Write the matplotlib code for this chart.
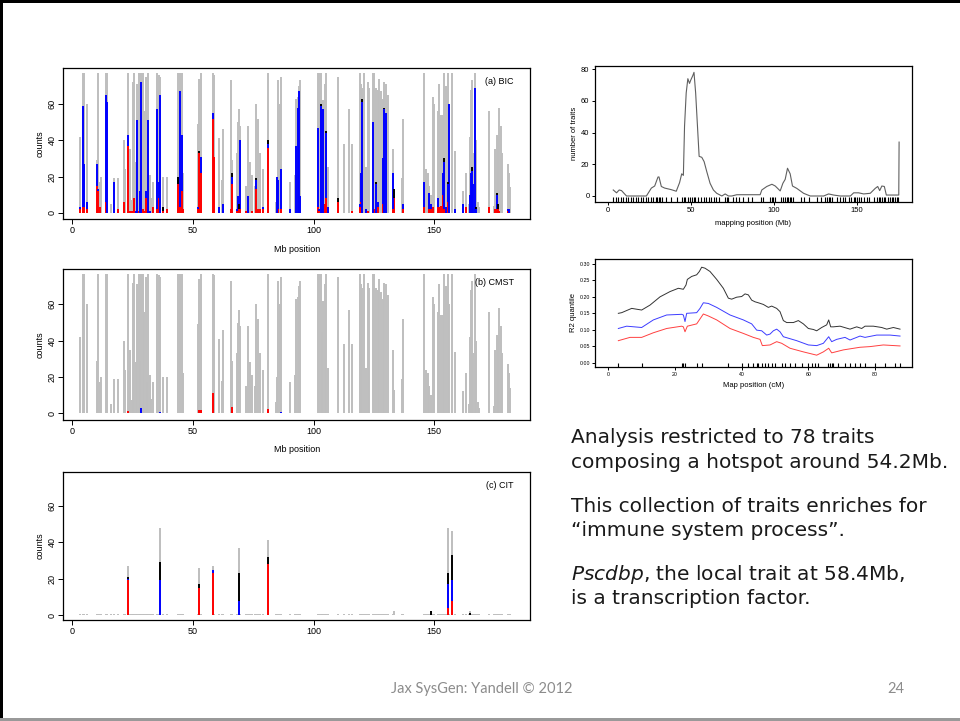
import matplotlib.pyplot as plt
import matplotlib.transforms as mtransforms
from matplotlib.patches import Rectangle

plt.rcParams['font.family'] = ['Liberation Sans', 'DejaVu Sans']
plt.rcParams['mathtext.fontset'] = 'custom'
plt.rcParams['mathtext.it'] = 'DejaVu Sans:italic'
plt.rcParams['mathtext.rm'] = 'DejaVu Sans'

# ---------------- data ----------------
# marker positions (Mb) and total counts (gray) shared by BIC and CMST panels
pos = [3.3, 4.4, 5.0, 6.3,
       10.2, 10.8, 11.4, 12.0, 14.0, 14.6, 16.2, 17.5, 19.1,
       21.5, 22.0, 23.0, 23.5, 24.0, 24.6, 25.2, 25.7, 26.3, 26.9, 27.5, 28.1,
       28.6, 29.2, 29.8, 30.4, 30.9, 31.5, 32.1, 32.7, 33.6,
       35.2, 35.8, 36.4, 37.6, 39.2,
       44.0, 44.6, 45.3, 45.9,
       52.2, 52.7, 53.3,
       58.2, 58.9, 60.8, 62.0, 62.5,
       65.7, 66.4, 68.1, 68.7, 69.2, 69.7,
       72.2, 72.9, 73.8, 74.5, 75.6, 76.3, 76.8, 77.7, 79.1, 81.1,
       84.3, 84.9, 85.3, 85.9, 86.6, 90.4, 92.3, 92.7, 93.4, 94.1, 94.5,
       101.8, 102.4, 102.9, 103.4, 104.0, 104.6, 105.2, 105.8,
       110.1, 112.6, 114.5, 116.0,
       119.1, 119.7, 120.1, 120.8, 121.8, 122.4, 123.1, 124.5, 125.2, 125.9, 126.6,
       127.3, 128.0, 128.7, 129.4, 130.0, 130.7, 132.8, 133.5, 136.5, 136.9,
       145.9, 146.6, 147.3, 148.0, 148.7, 149.4, 150.0, 151.4, 152.1, 152.8, 153.5,
       154.2, 154.9, 155.6, 156.3, 157.4, 158.8,
       161.8, 163.2, 164.3, 164.8, 165.3, 165.7, 166.2, 166.8, 167.3, 168.0, 168.7,
       172.8, 174.6, 175.3, 176.0, 176.5, 176.9, 177.6, 178.3, 180.6, 181.0, 181.6]
gray_h = [42, 77, 77, 60,
          29, 77, 17, 20, 77, 77, 5, 19, 19,
          40, 24, 77, 23, 35, 7, 72, 77, 28, 71, 77, 29,
          77, 77, 56, 75, 17, 77, 21, 8, 17,
          77, 76, 75, 20, 20,
          77, 77, 77, 22,
          49, 74, 77,
          77, 76, 41, 18, 46,
          73, 29, 33, 50, 57, 48,
          15, 48, 28, 21, 15, 60, 52, 33, 24, 77,
          6, 20, 73, 60, 75, 17, 21, 63, 64, 70, 73,
          77, 77, 77, 45, 62, 71, 77, 25,
          75, 38, 57, 38,
          77, 71, 69, 77, 25, 72, 69, 77, 77, 69, 68,
          74, 67, 63, 72, 71, 65, 35, 13, 19, 52,
          77, 24, 22, 15, 10, 64, 60, 56, 71, 54, 54,
          77, 70, 77, 60, 77, 34,
          12, 22, 5, 42, 68, 73, 33, 77, 40, 6, 3,
          56, 4, 35, 43, 42, 58, 48, 33, 27, 22, 14]

# (a) BIC: stacked segment heights red / blue / black
bic_pos = [3.3, 4.4, 5.0, 6.3, 10.2, 10.8, 11.4, 14.0, 14.6, 17.5,
           19.1, 21.5, 23.0, 24.0, 24.6, 25.7, 26.3, 26.9, 27.5, 28.1,
           28.6, 29.2, 29.8, 30.4, 30.9, 31.5, 32.1, 33.6, 35.2, 35.8,
           36.4, 37.6, 39.2, 44.0, 44.6, 45.3, 45.9, 52.2, 52.7, 53.3,
           58.2, 58.9, 60.8, 62.5, 65.7, 66.4, 68.1, 68.7, 69.2, 69.7,
           72.2, 72.9, 74.5, 76.3, 76.8, 77.7, 79.1, 81.1, 84.9, 85.3,
           86.6, 90.4, 92.7, 93.4, 94.1, 94.5, 101.8, 102.4, 102.9, 103.4,
           104.0, 104.6, 105.2, 105.8, 110.1, 116.0, 119.1, 119.7, 120.1, 121.8,
           122.4, 124.5, 125.2, 125.9, 126.6, 128.7, 129.4, 130.0, 132.8, 133.5,
           136.9, 145.9, 148.0, 148.7, 149.4, 151.4, 152.1, 152.8, 153.5, 154.2,
           154.9, 155.6, 156.3, 158.8, 161.8, 163.2, 164.8, 165.3, 165.7, 166.2,
           166.8, 167.3, 172.8, 175.3, 176.0, 176.5, 176.9, 180.6, 181.0]
bic_red = [2, 3, 3, 2, 15, 12, 3, 6, 0, 0,
           2, 6, 37, 1, 1, 8, 0, 0, 1, 0,
           0, 2, 1, 8, 1, 0, 0, 3, 2, 8,
           0, 1, 2, 16, 3, 12, 2, 2, 33, 22,
           52, 31, 0, 0, 2, 16, 1, 2, 2, 2,
           1, 0, 1, 13, 2, 2, 2, 36, 0, 2,
           2, 0, 0, 0, 0, 0, 3, 1, 0, 1,
           0, 5, 8, 0, 6, 1, 3, 6, 0, 0,
           1, 0, 2, 0, 3, 5, 0, 0, 2, 8,
           2, 3, 2, 2, 3, 3, 3, 4, 10, 2,
           0, 6, 0, 0, 0, 3, 0, 3, 0, 0,
           0, 0, 3, 2, 2, 2, 1, 1, 0]
bic_blue = [1, 56, 24, 4, 12, 1, 0, 59, 61, 17,
            0, 0, 6, 0, 0, 0, 1, 51, 0, 12,
            72, 0, 0, 4, 0, 51, 1, 0, 55, 9,
            65, 0, 0, 0, 64, 31, 0, 1, 0, 9,
            3, 0, 3, 5, 0, 4, 1, 7, 0, 38,
            0, 9, 0, 5, 0, 0, 1, 2, 20, 16,
            22, 2, 37, 58, 67, 9, 44, 1, 59, 1,
            57, 0, 36, 3, 0, 0, 2, 16, 61, 2,
            0, 50, 0, 16, 3, 25, 57, 55, 20, 0,
            3, 14, 9, 3, 0, 5, 0, 0, 12, 26,
            3, 10, 60, 2, 5, 0, 10, 19, 23, 16,
            69, 2, 0, 0, 8, 0, 0, 1, 2]
bic_black = [0, 0, 0, 0, 0, 0, 0, 0, 0, 0,
             0, 0, 0, 0, 0, 0, 0, 0, 0, 0,
             0, 0, 0, 0, 0, 0, 0, 0, 0, 0,
             0, 2, 0, 4, 0, 0, 0, 0, 1, 0,
             0, 0, 0, 0, 0, 2, 0, 0, 3, 0,
             0, 0, 0, 1, 0, 0, 0, 2, 0, 0,
             0, 0, 0, 0, 0, 0, 0, 0, 1, 0,
             0, 0, 1, 0, 2, 0, 0, 0, 2, 0,
             0, 0, 0, 1, 0, 0, 1, 0, 0, 5,
             0, 0, 0, 0, 0, 0, 0, 0, 0, 2,
             0, 1, 0, 0, 0, 0, 0, 0, 2, 0,
             0, 1, 0, 0, 1, 3, 0, 0, 0]

# (b) CMST coloured parts
cmst_pos = [23.0, 28.6, 36.4, 52.7, 53.3, 58.2, 66.4, 81.1, 86.6]
cmst_red = [1, 0, 0, 2, 2, 11, 3.5, 2.5, 0]
cmst_blue = [0, 3, 0.7, 0, 0, 0, 0, 0, 0.7]

# (c) CIT
cit_base = 0.7
cit_pos = [23.0, 36.4, 52.7, 58.2, 69.2, 81.1, 133.5, 148.7, 155.6, 157.4, 164.8]
cit_gray = [27, 48, 26, 27, 37, 41, 2, 2, 48, 46, 2]
cit_red = [19, 0, 15, 23, 0, 28, 0, 0, 4, 8, 0]
cit_blue = [1, 19, 0, 2, 8, 0, 0, 0, 13, 11, 0]
cit_black = [1, 10, 2, 0, 15, 4, 0, 2, 6, 14, 1]

# hotspot size profile (top right)
hot_x = [3, 5, 6.6, 8, 11, 23, 26, 28, 30, 30.6, 32, 34, 38, 41, 43, 44.3, 45.3,
         46, 47, 48, 49, 49.7, 51, 51.7, 52.7, 53.8, 54.8, 56.4, 57.8, 59.4, 61.4,
         63.4, 65.4, 68.5, 70.5, 72.5, 74.5, 77.5, 81.5, 91.6, 92.6, 95.6, 98.7,
         100.7, 103.7, 105.3, 106.7, 108.1, 109.7, 111.1, 113.7, 117.8, 121.8,
         129.9, 132.9, 135.9, 139.9, 146, 148, 151, 154, 158, 161, 162.5, 163.7,
         165, 166.5, 167.7, 174.2, 175.2, 175.4]
hot_y = [3.8, 2, 3.8, 3.4, 0, 0, 5, 6.3, 12, 12, 6, 5, 4, 3, 8.4, 14, 13,
         44, 65, 74, 71, 73, 76, 78, 65, 44, 25, 24.4, 21.7, 15.4, 8,
         3.8, 1.7, 0, 1.3, 0, 0, 0.8, 0.8, 0.8, 3.8, 6, 7.4,
         6.3, 3.2, 8, 10.5, 17.5, 14, 6.3, 4.8, 1.7, 0,
         0, 1.3, 0.6, 0, 0, 2, 2, 1.3, 1.7, 4.8, 6, 3.4,
         6.3, 6, 0.6, 0.6, 0.6, 34]
hot_rug = [3, 4.5, 6, 7.5, 9, 10.5, 12, 13.5, 15, 16.5, 18, 19.5, 21, 22.5, 24,
           25.5, 27, 28.5, 29.5, 30.5, 31.5, 32.5, 35, 38, 41.5, 44.5, 45.5, 46.5,
           48, 49.5, 50.5, 51.5, 52.5, 54, 56, 57.5, 59, 60.5, 62, 63.5, 65, 67,
           70.5, 71.5, 72.5, 75, 77, 79, 81, 84, 86.5, 92, 93.5, 97.5, 98.5, 99.5,
           100.5, 104, 105.5, 106.5, 107.5, 108.5, 109.5, 110.5, 111.5, 116, 118,
           121, 126, 128, 130.5, 132, 133, 134, 135, 138, 140, 141.5, 143, 145,
           146.5, 148, 149, 150, 151, 152.5, 154.5, 156, 157.5, 160, 162, 163,
           164, 165, 166, 167, 168.5, 170, 171, 172, 173, 174, 175]

# R2 quantiles along map (bottom right)
r2_black_x = [3, 4, 7, 10, 12.5, 15.5, 18.5, 21, 22.5, 23.3, 23.7, 25, 26.5, 27.3,
              28, 29, 30.5, 32.5, 34.5, 36, 37, 38.5, 40, 41, 42, 43, 44, 45, 46.5,
              48, 49, 50.5, 51.5, 52.5, 53.5, 55.5, 57, 58.5, 60, 61.5, 62.5, 64,
              65.5, 66.1, 66.7, 67.5, 69.5, 72.5, 74.5, 76, 77, 79.5, 82, 83.5,
              85.5, 87.5]
r2_black_y = [0.150, 0.152, 0.165, 0.160, 0.175, 0.200, 0.216, 0.226, 0.223, 0.236,
              0.253, 0.262, 0.267, 0.277, 0.290, 0.287, 0.277, 0.253, 0.226, 0.196,
              0.193, 0.199, 0.201, 0.209, 0.206, 0.190, 0.185, 0.182, 0.177, 0.168,
              0.172, 0.165, 0.155, 0.128, 0.122, 0.122, 0.128, 0.118, 0.104, 0.101,
              0.097, 0.107, 0.115, 0.130, 0.109, 0.109, 0.111, 0.102, 0.109, 0.104,
              0.111, 0.111, 0.107, 0.102, 0.107, 0.102]
r2_blue_x = [3, 5.5, 10, 13.5, 17.5, 22, 22.5, 23, 23.5, 26.5, 27.5, 28.5, 30, 32.5,
             36.5, 40.5, 43, 44.5, 46, 47.5, 48.5, 49.5, 50.5, 51.5, 52.5, 56.5, 60,
             62.5, 64.5, 66.1, 67, 68.5, 71, 72.5, 75.5, 77, 80.5, 84.5, 87.5]
r2_blue_y = [0.104, 0.111, 0.107, 0.130, 0.145, 0.147, 0.145, 0.125, 0.150, 0.152,
             0.165, 0.182, 0.180, 0.168, 0.145, 0.130, 0.118, 0.099, 0.097, 0.084,
             0.087, 0.097, 0.102, 0.094, 0.079, 0.067, 0.054, 0.052, 0.059, 0.079,
             0.064, 0.071, 0.077, 0.069, 0.081, 0.077, 0.084, 0.084, 0.081]
r2_red_x = [3, 6.5, 10, 13.5, 17.5, 22, 22.5, 23, 23.7, 26.5, 28.5, 30, 32.5, 36.5,
            40.5, 43.5, 45.5, 46.2, 48.5, 50.5, 52, 54.5, 58.5, 62.5, 64.5, 66.1,
            67, 70.5, 75.5, 78.5, 82.5, 87.5]
r2_red_y = [0.067, 0.077, 0.077, 0.091, 0.104, 0.111, 0.109, 0.094, 0.111, 0.118,
            0.148, 0.142, 0.130, 0.104, 0.089, 0.077, 0.071, 0.052, 0.054, 0.064,
            0.059, 0.044, 0.033, 0.023, 0.033, 0.044, 0.030, 0.039, 0.047, 0.049,
            0.054, 0.051]
r2_rug = [3, 10, 22, 22.5, 23, 26.5, 28, 36, 40, 42, 43.5, 44.5, 45, 46, 47, 48, 49,
          50, 52, 53, 54.5, 56, 58, 60, 61, 62, 63, 66, 66.5, 67, 67.5, 69, 71,
          72.5, 74, 75.5, 77, 80, 83, 86, 87.5]

notes = ["Analysis restricted to 78 traits",
         "composing a hotspot around 54.2Mb.",
         "This collection of traits enriches for",
         "\u201cimmune system process\u201d.",
         "$\\mathit{Pscdbp}$, the local trait at 58.4Mb,",
         "is a transcription factor."]

# ---------------- drawing ----------------
W, H = 960, 721
GRAY = '#bebebe'
fig = plt.figure(figsize=(W / 100, H / 100), dpi=100)


def box(x0, y0, x1, y1):
    return [x0 / W, 1 - y1 / H, (x1 - x0) / W, (y1 - y0) / H]


def r_axes(rect, fs, rot_y=True):
    ax = fig.add_axes(rect)
    ax.tick_params(direction='out', length=3.5, width=0.7, labelsize=fs, pad=1.5)
    if rot_y:
        ax.tick_params(axis='y', labelrotation=90)
    for s in ax.spines.values():
        s.set_linewidth(0.9)
    return ax


def stack(ax, x, segs, colors, lw=1.4):
    base = [0.0] * len(x)
    for h, c in zip(segs, colors):
        xs, y0, y1 = [], [], []
        for i in range(len(x)):
            if h[i] > 0:
                xs.append(x[i])
                y0.append(base[i])
                y1.append(base[i] + h[i])
            base[i] += h[i]
        ax.vlines(xs, y0, y1, colors=c, lw=lw)


left_boxes = [(68.3, 219.3), (268.7, 419.7), (471.7, 620.0)]
ylims = [(-3.6, 79.7), (-3.6, 79.7), (-2.7, 78.7)]
tags = ['(a) BIC', '(b) CMST', '(c) CIT']

for k in range(3):
    ax = r_axes(box(63.3, left_boxes[k][0], 530, left_boxes[k][1]), 6.5)
    if k < 2:
        ax.vlines(pos, 0, gray_h, colors=GRAY, lw=1.4)
    if k == 0:
        stack(ax, bic_pos, [bic_red, bic_blue, bic_black], ['#ff0000', '#0000ff', 'black'])
    elif k == 1:
        stack(ax, cmst_pos, [cmst_red, cmst_blue], ['#ff0000', '#0000ff'])
    else:
        ax.vlines(pos, 0, cit_base, colors=GRAY, lw=1.4)
        ax.vlines(cit_pos, 0, cit_gray, colors=GRAY, lw=1.4)
        stack(ax, cit_pos, [cit_red, cit_blue, cit_black], ['#ff0000', '#0000ff', 'black'])
    ax.set_xlim(-3.7, 189.7)
    ax.set_ylim(*ylims[k])
    ax.set_xticks([0, 50, 100, 150])
    ax.set_yticks([0, 20, 40, 60])
    for lab in ax.get_yticklabels():
        lab.set_va('center')
    if k < 2:
        ax.set_xlabel('Mb position', fontsize=6.5, labelpad=7)
    ax.set_ylabel('counts', fontsize=6.5, labelpad=2)
    ax.text(0.965, 0.91, tags[k], transform=ax.transAxes, ha='right', va='center',
            fontsize=6.5)

# top right: hotspot profile
ax = r_axes(box(595, 66, 911.7, 201.7), 5.5, rot_y=False)
ax.plot(hot_x, hot_y, color='#606060', lw=0.8)
tr = mtransforms.blended_transform_factory(ax.transData, ax.transAxes)
ax.vlines(hot_rug, 0, 0.035, transform=tr, colors='black', lw=0.8)
ax.set_xlim(-8, 183)
ax.set_ylim(-3.6, 82)
ax.set_xticks([0, 50, 100, 150])
ax.set_yticks([0, 20, 40, 60, 80])
ax.tick_params(length=2.5)
ax.set_xlabel('mapping position (Mb)', fontsize=5.5, labelpad=4)
ax.set_ylabel('number of traits', fontsize=5.5, labelpad=2)

# bottom right: R2 quantiles
ax = r_axes(box(595, 259.3, 911.7, 366.7), 3.8, rot_y=False)
ax.plot(r2_black_x, r2_black_y, color='#333333', lw=0.7)
ax.plot(r2_blue_x, r2_blue_y, color='#3c3cff', lw=0.7)
ax.plot(r2_red_x, r2_red_y, color='#ff4040', lw=0.7)
tr = mtransforms.blended_transform_factory(ax.transData, ax.transAxes)
ax.vlines(r2_rug, 0, 0.035, transform=tr, colors='black', lw=0.8)
ax.set_xlim(-4, 91)
ax.set_ylim(-0.012, 0.314)
ax.set_xticks([0, 20, 40, 60, 80])
ax.set_yticks([0, 0.05, 0.10, 0.15, 0.20, 0.25, 0.30])
ax.set_yticklabels(['0.00', '0.05', '0.10', '0.15', '0.20', '0.25', '0.30'])
ax.tick_params(length=2)
ax.set_xlabel('Map position (cM)', fontsize=5.5, labelpad=4)
ax.set_ylabel('R2 quantile', fontsize=5.5, labelpad=2)

# slide text
baselines = [443.3, 468.3, 511.7, 535.5, 580.0, 604.3]
for t, yb in zip(notes, baselines):
    fig.text(570.7 / W, 1 - yb / H, t, fontsize=14.5, family='DejaVu Sans',
             va='baseline', ha='left', color='#1a1a1a')

fig.text(482 / W, 1 - 689 / H, 'Jax SysGen: Yandell \u00a9 2012', fontsize=10.5,
         family='Lato', color='#8c8c8c', ha='center', va='center')
fig.text(896 / W, 1 - 689 / H, '24', fontsize=10.5, family='Lato',
         color='#8c8c8c', ha='center', va='center')

# slide frame
fig.add_artist(Rectangle((0, 1 - 3 / H), 1, 3 / H, transform=fig.transFigure,
                         color='black', lw=0))
fig.add_artist(Rectangle((0, 0), 2.5 / W, 1, transform=fig.transFigure,
                         color='black', lw=0))
fig.add_artist(Rectangle((0, 0), 1, 3 / H, transform=fig.transFigure,
                         color='#999999', lw=0))

fig.savefig('out.png', dpi=100)
